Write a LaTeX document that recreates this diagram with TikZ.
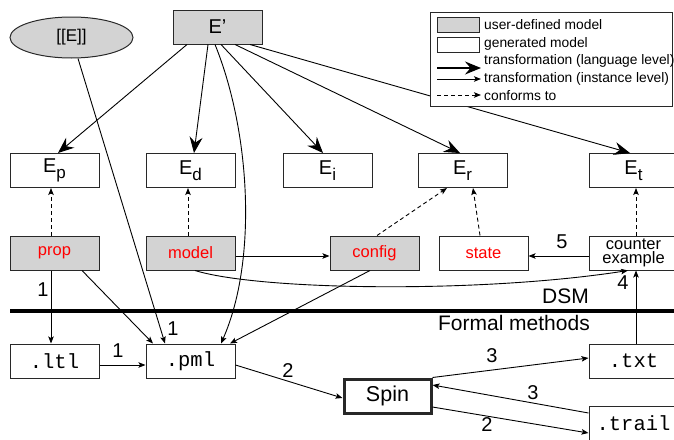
\documentclass[tikz,border=0pt]{standalone}
\usepackage{fontspec}
\setmainfont{Liberation Sans}
\setmonofont{Liberation Mono}
\usetikzlibrary{arrows.meta,shapes.geometric,calc}

\definecolor{usergray}{RGB}{211,211,211}
\definecolor{edgegray}{RGB}{40,40,40}
\definecolor{labelred}{RGB}{255,0,0}

\newcommand\Esub[1]{E\raisebox{-6pt}{\fontsize{17}{17}\selectfont #1}}

\tikzset{
  mbox/.style={draw=edgegray, line width=1pt, minimum width=89pt, minimum height=34pt,
    inner sep=0pt, font=\fontsize{20}{22}\selectfont},
  userdef/.style={mbox, fill=usergray},
  gen/.style={mbox, fill=white},
  redtext/.style={text=labelred, font=\fontsize{16.5}{18}\selectfont},
  file/.style={gen, font=\fontsize{20.5}{22}\selectfont\ttfamily},
  lang/.style={-{Stealth[length=16pt,width=13pt,inset=5.5pt]}, line width=0.9pt},
  inst/.style={-{Stealth[length=7pt,width=5.5pt,inset=1.5pt]}, line width=0.9pt},
  conf/.style={inst, dash pattern=on 4pt off 3pt},
  num/.style={font=\fontsize{20}{22}\selectfont, inner sep=0pt},
  legtext/.style={anchor=west, inner sep=0pt, font=\fontsize{13.8}{15}\selectfont},
}

\begin{document}
\begin{tikzpicture}[x=1pt,y=-1pt]
\useasboundingbox (0,0) rectangle (674,439);
\clip (0,0) rectangle (674,439);

% metamodels
\node[ellipse, draw=edgegray, line width=1pt, fill=usergray, minimum width=123pt,
  minimum height=41pt, inner sep=0pt, font=\fontsize{17}{19}\selectfont] (sem) at (71.5,37.5) {[[E]]};
\node[userdef] (Eprime) at (217.5,27) {E'};

\node[gen] (Ep) at (54.5,170.5) {\Esub{p}};
\node[gen] (Ed) at (190.5,170.5) {\Esub{d}};
\node[gen] (Ei) at (327.5,170.5) {\Esub{i}};
\node[gen] (Er) at (462.5,170.5) {\Esub{r}};
\node[gen] (Et) at (633.5,170.5) {\Esub{t}};

% models
\node[userdef, redtext] (prop) at (54.5,253) {prop};
\node[userdef, redtext] (model) at (190.5,253) {model};
\node[userdef, redtext] (config) at (374.5,253) {config};
\node[gen, redtext] (state) at (483.5,253) {state};
\node[gen, align=center, font=\fontsize{16.5}{13.5}\selectfont] (counter) at (633.5,253) {counter\\example};

% formal methods side
\node[file] (ltl) at (54.5,361) {.ltl};
\node[file] (pml) at (190.5,361) {.pml};
\node[file] (txt) at (633.5,361) {.txt};
\node[file] (trail) at (633.5,423) {.trail};
\node[gen, line width=3pt, minimum width=87pt, minimum height=34pt,
  font=\fontsize{21.5}{23}\selectfont] (spin) at (387.5,396) {Spin};

% separator between the two worlds
\coordinate (sepL) at (10,311);
\coordinate (sepR) at (680,311);
\draw[line width=3.5pt] (sepL) -- (sepR);
\node[anchor=east, num, font=\fontsize{21}{23}\selectfont] (dsm) at (589,296) {DSM};
\node[anchor=east, num, font=\fontsize{21}{23}\selectfont] (fm) at (590,323) {Formal methods};

% language-level transformations
\draw[lang] ([xshift=-30.5pt]Eprime.south) -- ([xshift=3.5pt]Ep.north);
\draw[lang] ([xshift=-9.5pt]Eprime.south) -- ([xshift=3.5pt]Ed.north);
\draw[lang] ([xshift=3.5pt]Eprime.south) -- ([xshift=-4.5pt]Ei.north);
\draw[lang] ([xshift=17.5pt]Eprime.south) -- ([xshift=-2.5pt]Er.north);
\draw[lang] ([xshift=32.5pt]Eprime.south) -- ([xshift=-3.5pt]Et.north);

% instance-level transformations
\draw[inst] ([xshift=-2.5pt]Eprime.south) .. controls +(35,86) and +(37,-84) .. ([xshift=30.5pt]pml.north);
\draw[inst] ([xshift=6.5pt]sem.south) -- ([xshift=-25.5pt]pml.north);
\draw[inst] ([xshift=-3.5pt]prop.south) -- ([xshift=-3.5pt]ltl.north);
\draw[inst] ([xshift=27.5pt]prop.south) -- ([xshift=-37.5pt]pml.north);
\draw[inst] ([yshift=-4pt]ltl.east) -- ([yshift=-4pt]pml.west);
\draw[inst] ([yshift=-3pt]model.east) -- ([yshift=-3pt]config.west);
\draw[inst] ([xshift=4.5pt]model.south) .. controls +(65,20) and +(-148,23) .. ([xshift=-5.5pt]counter.south);
\draw[inst] ([xshift=-4.5pt]config.south) -- ([xshift=39.5pt]pml.north);
\draw[inst] ([yshift=-3pt]counter.west) -- ([yshift=-3pt]state.east);
\draw[inst] ([xshift=2.5pt]txt.north) -- ([xshift=2.5pt]counter.south);
\draw[inst] ([yshift=-4pt]pml.east) -- ([yshift=-2pt]spin.west);
\draw[inst] (spin.north east) -- ([yshift=3pt]txt.west);
\draw[inst] ([yshift=10pt]trail.west) -- ([yshift=11pt]spin.east);
\draw[inst] ([yshift=-11pt]spin.east) -- ([yshift=-10pt]trail.west);

% conformance
\draw[conf] ([xshift=-3.5pt]prop.north) -- ([xshift=-3.5pt]Ep.south);
\draw[conf] ([xshift=-2.5pt]model.north) -- ([xshift=-2.5pt]Ed.south);
\draw[conf] ([xshift=2.5pt]config.north) -- ([xshift=-15.5pt]Er.south);
\draw[conf] ([xshift=-3.5pt]state.north) -- ([xshift=10.5pt]Er.south);
\draw[conf] ([xshift=2.5pt]counter.north) -- ([xshift=2.5pt]Et.south);

% step numbers
\node[num] (n1a) at (43,290) {1};
\node[num] (n1b) at (173,329) {1};
\node[num] (n1c) at (118,351) {1};
\node[num] (n2a) at (288,371) {2};
\node[num] (n3a) at (492,356) {3};
\node[num] (n3b) at (533,393) {3};
\node[num] (n2b) at (487,425) {2};
\node[num] (n5) at (562,242) {5};
\node[num] (n4) at (623,283) {4};

% legend
\node[draw=edgegray, fill=white, line width=1pt, minimum width=242pt, minimum height=94pt,
  inner sep=0pt, anchor=north west] (legend) at (430,12) {};
\node[draw=edgegray, line width=1pt, fill=usergray, minimum width=42pt, minimum height=15pt,
  inner sep=0pt] (kuser) at (458,25) {};
\node[draw=edgegray, line width=1pt, fill=white, minimum width=42pt, minimum height=15pt,
  inner sep=0pt] (kgen) at (458,45) {};
\coordinate (klangA) at (437,68);  \coordinate (klangB) at (481,68);
\coordinate (kinstA) at (437,79);  \coordinate (kinstB) at (481,79);
\coordinate (kconfA) at (437,95);  \coordinate (kconfB) at (481,95);
\draw[lang, line width=1.8pt] (klangA) -- (klangB);
\draw[inst] (kinstA) -- (kinstB);
\draw[conf] (kconfA) -- (kconfB);
\node[legtext] (tuser) at (484,25) {user-defined model};
\node[legtext] (tgen) at (484,44) {generated model};
\node[legtext] (tlang) at (484,61) {transformation (language level)};
\node[legtext] (tinst) at (484,79) {transformation (instance level)};
\node[legtext] (tconf) at (484,96) {conforms to};
\end{tikzpicture}
\end{document}
